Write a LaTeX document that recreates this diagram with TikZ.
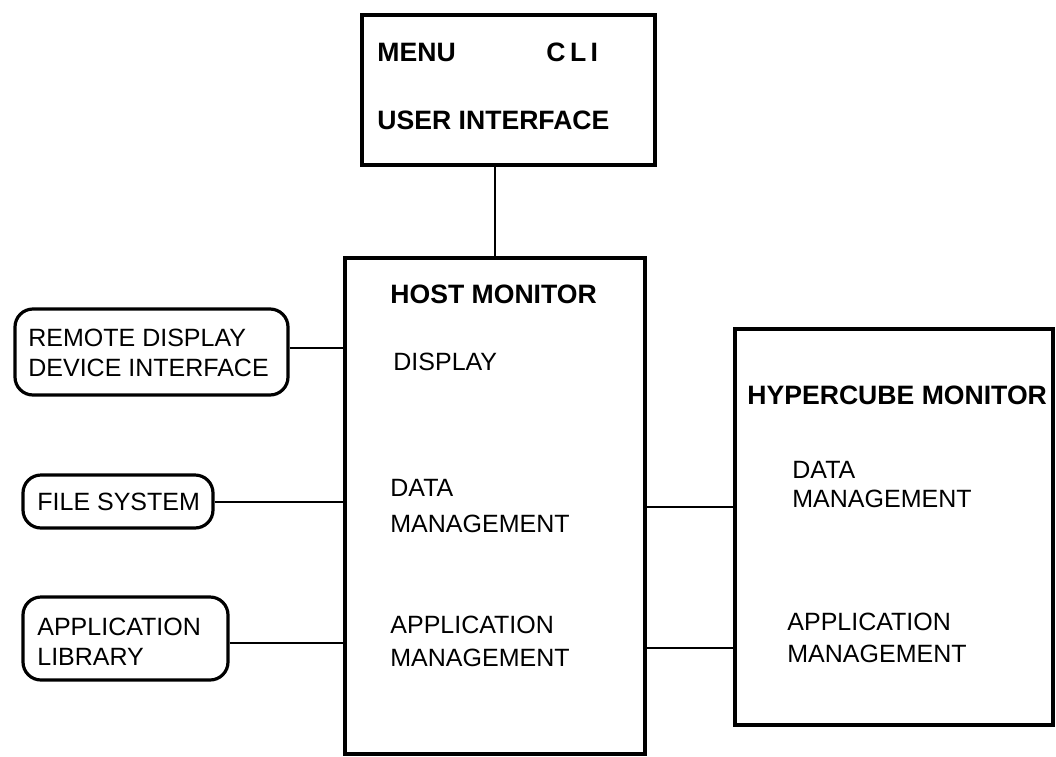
\documentclass[tikz,border=0pt]{standalone}
\usepackage{fontspec}
\setmainfont{Liberation Sans}
\usetikzlibrary{positioning}

\begin{document}
\begin{tikzpicture}[x=0.5pt, y=-0.5pt]
    \tikzstyle{block} = [rectangle, draw, line width=1.9pt, inner sep=0pt]
    \tikzstyle{ext} = [rectangle, rounded corners=9pt, draw, line width=1.6pt, inner sep=0pt]
    \tikzstyle{title} = [font=\fontsize{13.3}{15}\selectfont\bfseries, inner sep=0pt, anchor=west]
    \tikzstyle{txt} = [font=\fontsize{12.5}{15}\selectfont, inner sep=0pt, anchor=west, align=left]
    \tikzstyle{link} = [line width=1pt]

    \useasboundingbox (0,0) rectangle (1056,756);

    % Boxes
    \node (ui) [block, minimum width=146.5pt, minimum height=75pt] at (508.5,90) {};
    \node (host) [block, minimum width=150pt, minimum height=248pt] at (495,506) {};
    \node (hyper) [block, minimum width=159pt, minimum height=198pt] at (894,527) {};

    \node (remote) [ext, minimum width=136.5pt, minimum height=43pt] at (151.5,352) {};
    \node (files) [ext, minimum width=95pt, minimum height=26.5pt] at (118,501.5) {};
    \node (applib) [ext, minimum width=102.5pt, minimum height=41.5pt] at (125.5,638.5) {};

    % Texts
    \node (menu) [title] at (377,52) {MENU};
    \node (cli) [title] at (546,52) {C\,L\,I};
    \node (uitext) [title] at (377,120) {USER INTERFACE};

    \node (hosttext) [title] at (390,294) {HOST MONITOR};
    \node (hdisp) [txt] at (393,362) {DISPLAY};
    \node (hdata) [txt] at (390,506) {DATA\\[3pt]MANAGEMENT};
    \node (happ) [txt] at (390,641.5) {APPLICATION\\[1.5pt]MANAGEMENT};

    \node (hypertext) [title] at (747,395) {HYPERCUBE MONITOR};
    \node (cdata) [txt] at (792,484.5) {DATA\\[-0.5pt]MANAGEMENT};
    \node (capp) [txt] at (787,638) {APPLICATION\\[1pt]MANAGEMENT};

    \node (remotetext) [txt] at (28,353) {REMOTE DISPLAY\\DEVICE INTERFACE};
    \node (filestext) [txt] at (37,502) {FILE SYSTEM};
    \node (applibtext) [txt] at (37,642) {APPLICATION\\LIBRARY};

    \coordinate (rd) at (0,348);
    \coordinate (fs) at (0,502);
    \coordinate (al) at (0,643);
    \coordinate (dm) at (0,507);
    \coordinate (am) at (0,648);

    % Lines
    \draw [link] (host.north) -- (host.north |- ui.south);
    \draw [link] (remote.east |- rd) -- (host.west |- rd);
    \draw [link] (files.east |- fs) -- (host.west |- fs);
    \draw [link] (applib.east |- al) -- (host.west |- al);
    \draw [link] (host.east |- dm) -- (hyper.west |- dm);
    \draw [link] (host.east |- am) -- (hyper.west |- am);
\end{tikzpicture}
\end{document}
